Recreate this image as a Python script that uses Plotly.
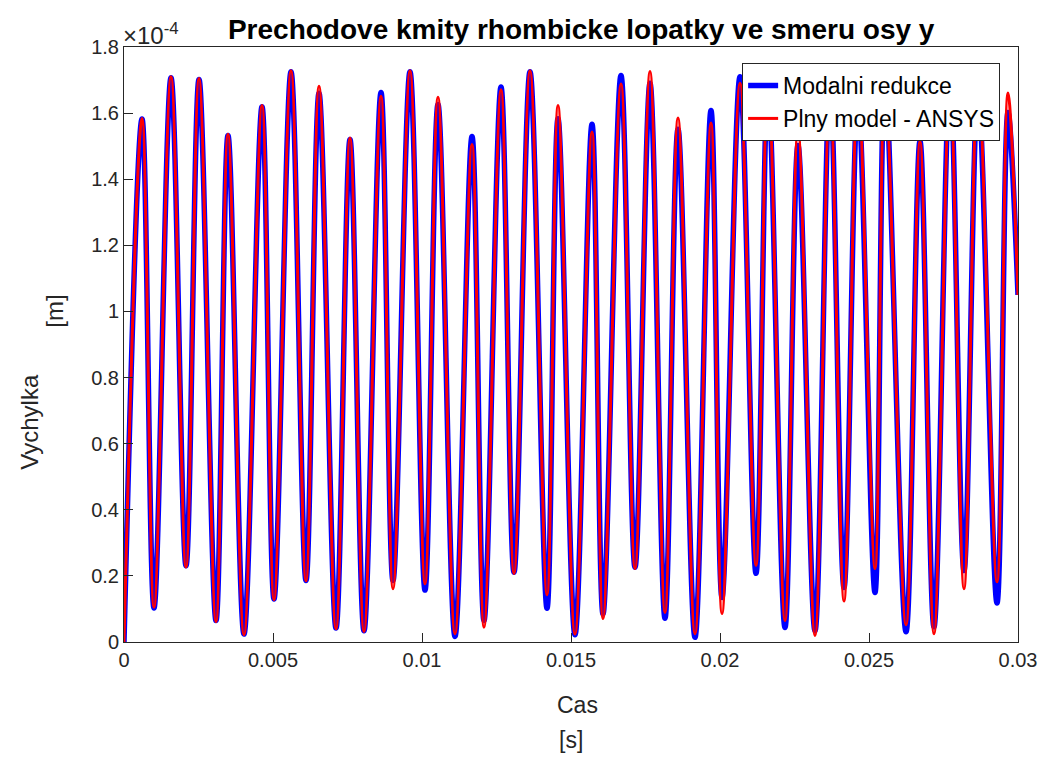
import plotly.graph_objects as go

# time of extrema [s]
t = [0.0, 0.000604, 0.001007, 0.001577, 0.002081, 0.002517, 0.003087, 0.003490, 0.004027,
     0.004631, 0.005034, 0.005604, 0.006107, 0.006544, 0.007114, 0.007584, 0.008054,
     0.008624, 0.009027, 0.009597, 0.010101, 0.010537, 0.011107, 0.011678, 0.012081,
     0.012651, 0.013087, 0.013624, 0.014195, 0.014564, 0.015134, 0.015705, 0.016074,
     0.016678, 0.017148, 0.017651, 0.018154, 0.018591, 0.019161, 0.019698, 0.020067,
     0.020671, 0.021208, 0.021611, 0.022181, 0.022617, 0.023188, 0.023691, 0.024161,
     0.024631, 0.025201, 0.025537, 0.026242, 0.026711, 0.027181, 0.027718, 0.028188,
     0.028658, 0.029295, 0.029664, 0.030000]

# displacement in units of 1e-4 m
modal = [0.0, 1.582, 0.103, 1.707, 0.231, 1.702, 0.065, 1.532, 0.024, 1.619, 0.130,
         1.725, 0.186, 1.660, 0.042, 1.520, 0.034, 1.662, 0.186, 1.725, 0.157,
         1.626, 0.017, 1.529, 0.065, 1.679, 0.211, 1.725, 0.102, 1.583, 0.022,
         1.566, 0.085, 1.714, 0.226, 1.690, 0.072, 1.551, 0.014, 1.608, 0.135,
         1.71, 0.208, 1.69, 0.044, 1.502, 0.034, 1.69, 0.165, 1.65, 0.150,
         1.71, 0.031, 1.515, 0.046, 1.71, 0.216, 1.67, 0.118, 1.602, 1.05]

ansys = [0.0, 1.584, 0.105, 1.710, 0.227, 1.705, 0.062, 1.536, 0.022, 1.623, 0.128,
         1.728, 0.185, 1.681, 0.040, 1.525, 0.032, 1.651, 0.161, 1.728, 0.176,
         1.648, 0.025, 1.505, 0.045, 1.671, 0.207, 1.728, 0.143, 1.623, 0.024,
         1.543, 0.071, 1.688, 0.222, 1.726, 0.089, 1.585, 0.025, 1.570, 0.086,
         1.69, 0.232, 1.71, 0.065, 1.551, 0.020, 1.67, 0.124, 1.69, 0.222,
         1.70, 0.052, 1.514, 0.025, 1.69, 0.161, 1.71, 0.182, 1.661, 1.05]

x_ticks = [0, 0.005, 0.01, 0.015, 0.02, 0.025, 0.03]
x_tick_text = ["0", "0.005", "0.01", "0.015", "0.02", "0.025", "0.03"]
y_ticks = [0, 0.2, 0.4, 0.6, 0.8, 1.0, 1.2, 1.4, 1.6, 1.8]
y_tick_text = ["0", "0.2", "0.4", "0.6", "0.8", "1", "1.2", "1.4", "1.6", "1.8"]

FONT = "Liberation Sans, Arial, Helvetica, sans-serif"
AX = "#262626"

fig = go.Figure()
fig.add_trace(go.Scatter(x=t, y=modal, mode="lines", name="Modalni redukce",
                         line=dict(color="#0000FF", width=5.5, shape="spline", smoothing=1)))
fig.add_trace(go.Scatter(x=t, y=ansys, mode="lines", name="Plny model - ANSYS",
                         line=dict(color="#FF0000", width=3, shape="spline", smoothing=1)))

axis_common = dict(showgrid=False, zeroline=False, showline=True, linecolor=AX, linewidth=1,
                   mirror=True, ticks="inside", ticklen=9, tickcolor=AX,
                   tickfont=dict(family=FONT, size=20, color=AX))

fig.update_xaxes(range=[0, 0.03], tickvals=x_ticks, ticktext=x_tick_text, **axis_common)
fig.update_yaxes(range=[0, 1.8], tickvals=y_ticks, ticktext=y_tick_text, **axis_common)

lab_font = dict(family=FONT, size=23, color=AX)
# x axis label lines
fig.add_annotation(xref="paper", yref="paper", x=0.507, y=0, yshift=-63, xanchor="center",
                   yanchor="middle", text="Cas", showarrow=False, font=lab_font)
fig.add_annotation(xref="paper", yref="paper", x=0.5, y=0, yshift=-98, xanchor="center",
                   yanchor="middle", text="[s]", showarrow=False, font=lab_font)
# y axis label lines
fig.add_annotation(xref="paper", yref="paper", x=0, xshift=-94, y=0.37, xanchor="center",
                   yanchor="middle", text="Vychylka", textangle=-90, showarrow=False,
                   font=dict(family=FONT, size=24, color=AX))
fig.add_annotation(xref="paper", yref="paper", x=0, xshift=-69, y=0.555, xanchor="center",
                   yanchor="middle", text="[m]", textangle=-90, showarrow=False,
                   font=dict(family=FONT, size=24, color=AX))

fig.add_annotation(xref="paper", yref="paper", x=0, y=1, xanchor="left", yanchor="bottom",
                   text="×10<sup>-4</sup>", showarrow=False, yshift=-4, xshift=-3,
                   font=dict(family=FONT, size=24, color=AX))

fig.update_layout(
    width=1051, height=760,
    margin=dict(l=124, r=33, t=47, b=118),
    paper_bgcolor="white", plot_bgcolor="white",
    title=dict(text="<b>Prechodove kmity rhombicke lopatky ve smeru osy y</b>",
               x=0.553, xanchor="center", y=0.962, yanchor="middle",
               font=dict(family=FONT, size=28, color="black")),
    legend=dict(x=0.98, y=0.973, xanchor="right", yanchor="top",
                bgcolor="white", bordercolor=AX, borderwidth=1,
                font=dict(family=FONT, size=23, color="black"),
                tracegroupgap=0),
    showlegend=True,
)

fig.write_html("out.html")
